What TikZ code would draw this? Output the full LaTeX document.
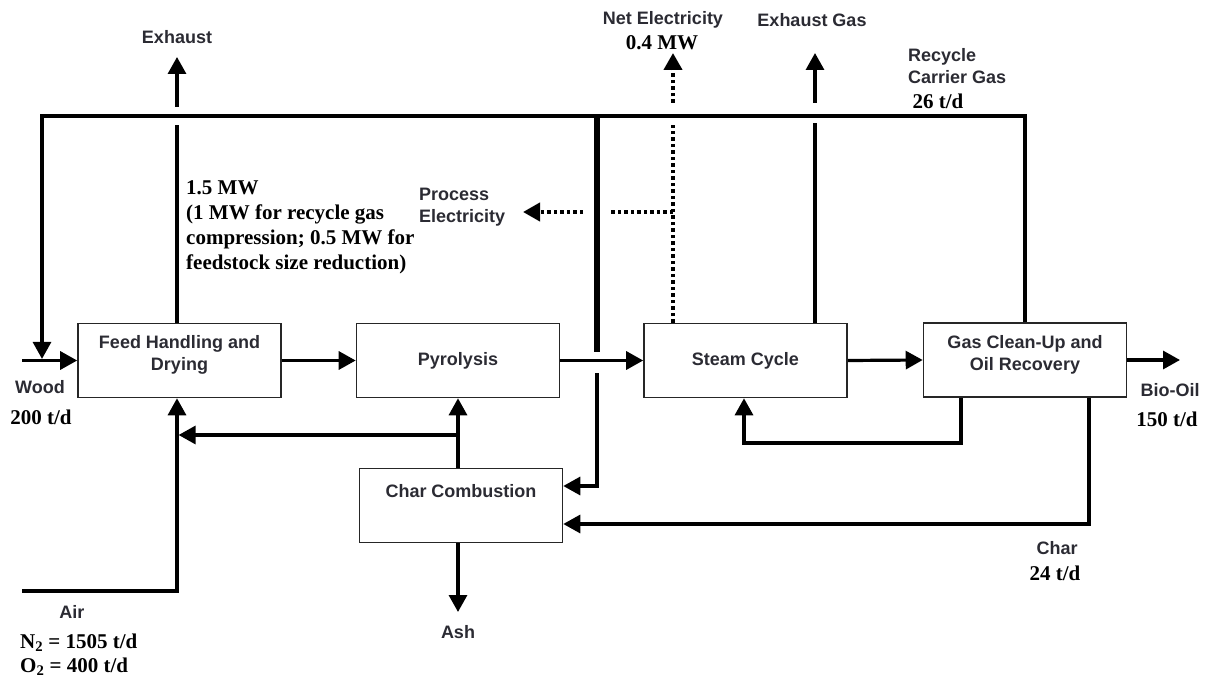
\documentclass[tikz,border=0pt]{standalone}
\usepackage{fontspec}
\setmainfont{Liberation Serif}
\newfontfamily\arialf{Liberation Sans}
\usetikzlibrary{arrows.meta}
\definecolor{txtc}{HTML}{2B2B33}
\begin{document}
\begin{tikzpicture}[x=1pt,y=-1pt,
  box/.style={draw=black!85, line width=1.6pt, minimum width=203pt, minimum height=74pt, inner sep=0pt, align=center, font=\arialf\bfseries\fontsize{18}{22}\selectfont, text=txtc},
  lab/.style={font=\arialf\bfseries\fontsize{18}{22}\selectfont, text=txtc, inner sep=0pt, align=center},
  num/.style={font=\bfseries\fontsize{21}{25}\selectfont, inner sep=0pt, align=center},
  ln/.style={line width=3.2pt},
  tip/.style={-{Triangle[length=17pt,width=18pt]}},
  arr/.style={ln, tip},
  thk/.style={line width=6pt},
  dotln/.style={line width=4pt, dash pattern=on 3.5pt off 3pt}
]
\useasboundingbox (0,0) rectangle (1218,679);

% boxes
\node[box] (feed) at (179.5,360.5) {};
\node[lab] (feedlbl) at (179.5,355) {Feed Handling and\\Drying};
\node[box] (pyr) at (458,360.5) {Pyrolysis};
\node[box] (char) at (461,505.5) {};
\node[lab] (charlbl) at (461,491) {Char Combustion};
\node[box] (steam) at (745.5,360.5) {Steam Cycle};
\node[box] (gas) at (1025,360) {};
\node[lab] (gaslbl) at (1025,355) {Gas Clean-Up and\\Oil Recovery};

% coordinates
\coordinate (woodin) at (22,360.5);
\coordinate (tl) at (42,116);
\coordinate (exh) at (177,57);
\coordinate (exhlo) at (177,125);
\coordinate (exhhi) at (177,107);
\coordinate (exg) at (815,53);
\coordinate (exglo) at (815,123);
\coordinate (exghi) at (815,103);
\coordinate (nete) at (673,53);
\coordinate (netlo) at (673,125);
\coordinate (nethi) at (673,103);
\coordinate (pe0) at (673,212);
\coordinate (pe1) at (608,212);
\coordinate (pe2) at (583,212);
\coordinate (proce) at (523,212);
\coordinate (thtop) at (597,116);
\coordinate (thbot) at (597,352);
\coordinate (thlo) at (597,373);
\coordinate (j1) at (597,486);
\coordinate (br) at (458,435);
\coordinate (airin) at (22,591);
\coordinate (bioout) at (1180,360);
\coordinate (ash) at (458,612);
\coordinate (lp1) at (961,443);
\coordinate (lp2) at (744,443);
\coordinate (ch1) at (1089,524);

% recycle carrier gas loop
\draw[arr, shorten >=1.6pt] (gas.north) -- (gas.north |- tl) -- (tl) -- (tl |- woodin);
% main line
\draw[arr] (woodin) -- (feed.west);
\draw[arr] (feed.east) -- (pyr.west);
\draw[arr] (pyr.east) -- (steam.west);
\draw[arr] (steam.east) -- (gas.west);
\draw[arr] (gas.east) -- (bioout);
% exhaust
\draw[ln] (feed.north -| exh) -- (exhlo);
\draw[arr] (exhhi) -- (exh);
% exhaust gas
\draw[ln] (steam.north -| exg) -- (exglo);
\draw[arr] (exghi) -- (exg);
% net electricity
\draw[dotln] (steam.north -| nete) -- (netlo);
\draw[dotln, tip] (nethi) -- (nete);
% process electricity
\draw[dotln] (pe0) -- (pe1);
\draw[dotln, tip] (pe2) -- (proce);
% thick line
\draw[thk] (thtop) -- (thbot);
\draw[arr] (thlo) -- (j1) -- (char.east |- j1);
% char combustion to pyrolysis and feed
\draw[arr] (pyr.south |- char.north) -- (pyr.south);
\draw[arr, shorten >=1.6pt] (br) -- (exh |- br);
% air
\draw[arr] (airin) -- (exh |- airin) -- (feed.south -| exh);
% loop gas -> steam
\draw[arr] (gas.south -| lp1) -- (lp1) -- (lp2) -- (steam.south -| lp2);
% char recycle
\draw[arr] (gas.south -| ch1) -- (ch1) -- (char.east |- ch1);
% ash
\draw[arr] (char.south -| ash) -- (ash);

% labels
\node[lab] (lexh) at (177,37) {Exhaust};
\node[lab] (lnet) at (663,20) {Net Electricity};
\node[num] (lnetv) at (662,43) {0.4 MW};
\node[lab] (lexg) at (812,20) {Exhaust Gas};
\node[lab, anchor=west, align=left] (lrec) at (908,66) {Recycle\\Carrier Gas};
\node[num] (lrecv) at (938,101) {26 t/d};
\node[lab, anchor=west, align=left] (lproc) at (419,207.5) {Process\\Electricity};
\node[num, anchor=west, align=left] (lmw) at (186,227.5) {1.5 MW\\(1 MW for recycle gas\\compression; 0.5 MW for\\feedstock size reduction)};
\node[lab] (lwood) at (40,387) {Wood};
\node[num] (lwoodv) at (41,417) {200 t/d};
\node[lab] (lair) at (72,612) {Air};
\node[num, anchor=west, align=left, font=\bfseries\fontsize{21}{24}\selectfont] (lairv) at (20,655) {N\textsubscript{2} = 1505 t/d\\O\textsubscript{2} = 400 t/d};
\node[lab] (lash) at (458,632) {Ash};
\node[lab] (lbio) at (1170,390) {Bio-Oil};
\node[num] (lbiov) at (1167,419) {150 t/d};
\node[lab] (lchar) at (1057,548) {Char};
\node[num] (lcharv) at (1055,573) {24 t/d};
\end{tikzpicture}
\end{document}
